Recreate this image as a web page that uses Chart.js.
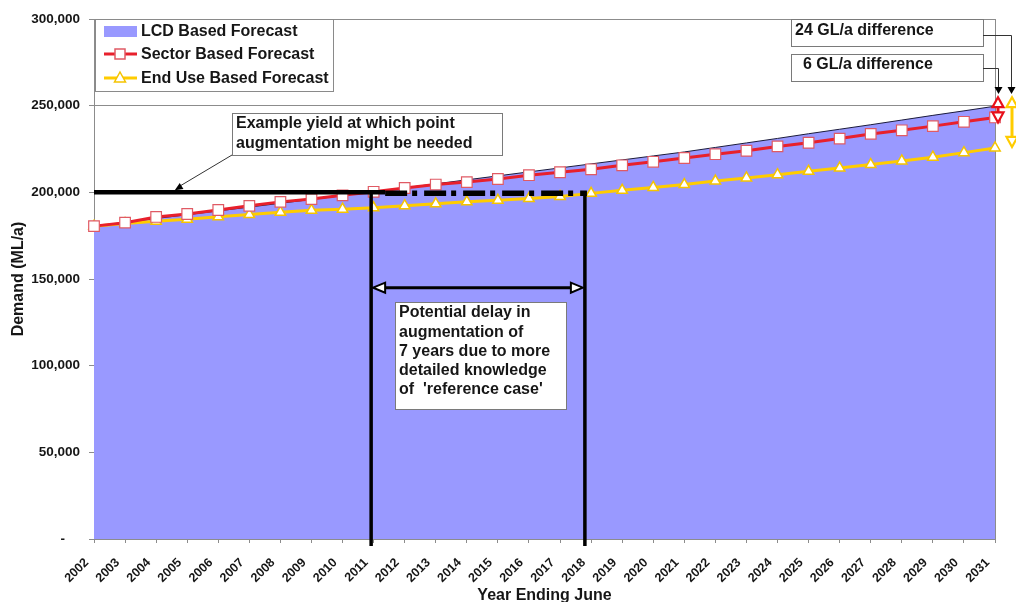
<!DOCTYPE html>
<html>
<head>
<meta charset="utf-8">
<script src="https://cdn.jsdelivr.net/npm/chart.js@4/dist/chart.umd.min.js"></script>
<style>
  html, body { margin: 0; padding: 0; background: #ffffff; }
  #wrap { width: 1016px; height: 602px; position: relative; }
</style>
</head>
<body>
<div id="wrap"><canvas id="demand" width="1016" height="602"></canvas></div>
<script>
// Forecast years (year ending June)
const years = ['2002','2003','2004','2005','2006','2007','2008','2009','2010','2011',
               '2012','2013','2014','2015','2016','2017','2018','2019','2020','2021',
               '2022','2023','2024','2025','2026','2027','2028','2029','2030','2031'];

// Demand forecasts, ML/a
const lcdForecast = [180500, 182700, 184900, 187100, 189300, 191500, 193700, 195900, 198100, 200300,
                     202600, 204900, 207200, 209500, 211800, 214100, 216400, 218700, 221000, 223300,
                     225900, 228500, 231100, 233800, 236400, 239000, 241700, 244400, 247000, 249700];
const sectorForecast = [180500, 182500, 185800, 187500, 189800, 192200, 194500, 196100, 198300, 200300,
                        202500, 204500, 205900, 207700, 209900, 211600, 213300, 215600, 217600, 219800,
                        222000, 224000, 226500, 228600, 231000, 233700, 235800, 238200, 240700, 243200];
const endUseForecast = [180500, 182000, 183300, 184500, 185900, 187200, 188500, 189600, 190300, 191100,
                        192300, 193400, 194500, 195400, 196400, 197600, 199400, 201200, 202800, 204500,
                        206500, 208300, 210200, 212100, 214000, 216000, 218100, 220300, 222900, 225600];

// Value axis labels (accounting style: zero shown as a dash)
const yTickLabels = ['-    ', '50,000', '100,000', '150,000', '200,000', '250,000', '300,000'];

// Annotation values
const firstYear = 2002;
const yieldLevel = 200000;       // example yield
const delayFrom = 2010.92;       // LCD forecast reaches the yield
const delayTo = 2017.8;          // end use forecast reaches the yield
const delayArrowLevel = 145000;
const sectorGap = 6;             // GL/a
const endUseGap = 24;            // GL/a

const FONT = '"Liberation Sans", Arial, Helvetica, sans-serif';
const INK = '#161616';

function arrowHead(ctx, tipX, tipY, dx, dy, len, half, fill, stroke, lw) {
  const bx = tipX - dx * len, by = tipY - dy * len;
  const nx = -dy, ny = dx;
  ctx.beginPath();
  ctx.moveTo(tipX, tipY);
  ctx.lineTo(bx + nx * half, by + ny * half);
  ctx.lineTo(bx - nx * half, by - ny * half);
  ctx.closePath();
  if (fill) { ctx.fillStyle = fill; ctx.fill(); }
  if (stroke) { ctx.strokeStyle = stroke; ctx.lineWidth = lw; ctx.lineJoin = 'miter'; ctx.stroke(); }
}

function textBox(ctx, lines, left, top, w, h, tx, ty, lh) {
  ctx.fillStyle = '#ffffff';
  ctx.fillRect(left, top, w, h);
  ctx.strokeStyle = '#7a7a7a';
  ctx.lineWidth = 1;
  ctx.strokeRect(left + 0.5, top + 0.5, w, h);
  ctx.fillStyle = INK;
  ctx.font = 'bold 16px ' + FONT;
  ctx.textAlign = 'left';
  ctx.textBaseline = 'middle';
  lines.forEach((s, i) => ctx.fillText(s, tx, ty + i * lh));
}

const annotations = {
  id: 'annotations',
  beforeDatasetsDraw(chart) {
    const { ctx, chartArea: a } = chart;
    ctx.save();
    ctx.strokeStyle = '#8c8c8c';
    ctx.lineWidth = 1;
    ctx.strokeRect(Math.round(a.left) + 0.5, Math.round(a.top) + 0.5,
                   Math.round(a.right - a.left), Math.round(a.bottom - a.top));
    ctx.restore();
  },
  afterDatasetsDraw(chart) {
    const { ctx, chartArea: a, scales: { x, y } } = chart;
    const px = yr => x.getPixelForValue(yr - firstYear);
    const py = v => y.getPixelForValue(v);
    const last = years.length - 1;
    const yLine = py(yieldLevel);
    const x1 = px(delayFrom), x2 = px(delayTo);

    ctx.save();
    ctx.strokeStyle = '#000000';
    ctx.lineCap = 'butt';

    // yield line: solid, then dash-dot across the delay period
    ctx.lineWidth = 4.5;
    ctx.beginPath(); ctx.moveTo(a.left, yLine); ctx.lineTo(x1 + 14, yLine); ctx.stroke();
    ctx.lineWidth = 5.5;
    ctx.setLineDash([22, 5, 5, 7]);
    ctx.beginPath(); ctx.moveTo(x1 + 14, yLine + 1); ctx.lineTo(x2 + 2, yLine + 1); ctx.stroke();
    ctx.setLineDash([]);

    // delay period bounds
    ctx.lineWidth = 3.5;
    ctx.beginPath();
    ctx.moveTo(x1, yLine); ctx.lineTo(x1, a.bottom + 7);
    ctx.moveTo(x2, yLine - 1); ctx.lineTo(x2, a.bottom + 7);
    ctx.stroke();

    // double-headed delay arrow
    const yA = py(delayArrowLevel);
    ctx.lineWidth = 3;
    ctx.beginPath(); ctx.moveTo(x1 + 10, yA); ctx.lineTo(x2 - 10, yA); ctx.stroke();
    arrowHead(ctx, x1 + 2, yA, -1, 0, 12, 5, '#ffffff', '#000000', 2);
    arrowHead(ctx, x2 - 2, yA, 1, 0, 12, 5, '#ffffff', '#000000', 2);

    // delay explanation
    textBox(ctx, ['Potential delay in', 'augmentation of', '7 years due to more',
                  'detailed knowledge', "of  'reference case'"],
            395, 302, 171, 107, 399, 313, 19.2);

    // yield explanation with leader
    const tipX = px(2004.6);
    ctx.strokeStyle = '#333333';
    ctx.lineWidth = 1;
    ctx.beginPath(); ctx.moveTo(232, 155); ctx.lineTo(tipX + 3, yLine - 5); ctx.stroke();
    arrowHead(ctx, tipX, yLine - 2, -0.85, 0.53, 8, 3.5, '#000000', null, 0);
    textBox(ctx, ['Example yield at which point', 'augmentation might be needed'],
            232, 113, 270, 42, 236, 124, 20);

    // difference callouts at the end of the forecast
    textBox(ctx, [endUseGap + ' GL/a difference'], 791, 19, 192, 27, 795, 31, 0);
    textBox(ctx, [sectorGap + ' GL/a difference'], 791, 54, 192, 27, 803, 65, 0);
    ctx.strokeStyle = '#333333';
    ctx.lineWidth = 1;
    ctx.beginPath();
    ctx.moveTo(983, 35.5); ctx.lineTo(1011.5, 35.5); ctx.lineTo(1011.5, 88);
    ctx.moveTo(983, 68.5); ctx.lineTo(998.5, 68.5); ctx.lineTo(998.5, 88);
    ctx.stroke();
    arrowHead(ctx, 1011.5, 94, 0, 1, 7, 4, '#000000', null, 0);
    arrowHead(ctx, 998.5, 94, 0, 1, 7, 4, '#000000', null, 0);

    // LCD vs sector gap (red) and LCD vs end use gap (yellow)
    const redX = 998, yelX = 1012;
    const topTip = py(lcdForecast[last]) - 9;
    const redBot = py(sectorForecast[last]) + 5;
    const yelBot = py(endUseForecast[last]) - 1;
    ctx.lineWidth = 3;
    ctx.strokeStyle = '#e8101a';
    ctx.beginPath(); ctx.moveTo(redX, topTip + 9); ctx.lineTo(redX, redBot - 9); ctx.stroke();
    arrowHead(ctx, redX, topTip, 0, -1, 10, 5.5, '#ffffff', '#e8101a', 2.2);
    arrowHead(ctx, redX, redBot, 0, 1, 10, 5.5, '#ffffff', '#e8101a', 2.2);
    ctx.strokeStyle = '#ffcc00';
    ctx.lineWidth = 3;
    ctx.beginPath(); ctx.moveTo(yelX, topTip + 9); ctx.lineTo(yelX, yelBot - 9); ctx.stroke();
    arrowHead(ctx, yelX, topTip, 0, -1, 10, 5.5, '#ffffff', '#ffcc00', 2.2);
    arrowHead(ctx, yelX, yelBot, 0, 1, 10, 5.5, '#ffffff', '#ffcc00', 2.2);

    // legend
    ctx.fillStyle = '#ffffff';
    ctx.fillRect(95, 19, 238, 72);
    ctx.strokeStyle = '#8a8a8a';
    ctx.lineWidth = 1;
    ctx.strokeRect(95.5, 19.5, 238, 72);
    const ds = chart.data.datasets;
    ctx.font = 'bold 16px ' + FONT;
    ctx.textAlign = 'left';
    ctx.textBaseline = 'middle';
    // area swatch
    ctx.fillStyle = ds[0].backgroundColor;
    ctx.fillRect(104, 26, 33, 11);
    ctx.fillStyle = INK;
    ctx.fillText(ds[0].label, 141, 32);
    // sector entry
    ctx.strokeStyle = ds[1].borderColor; ctx.lineWidth = 3;
    ctx.beginPath(); ctx.moveTo(104, 54); ctx.lineTo(137, 54); ctx.stroke();
    ctx.fillStyle = '#ffffff'; ctx.fillRect(115, 49, 10, 10);
    ctx.strokeStyle = ds[1].pointBorderColor; ctx.lineWidth = 1.5;
    ctx.strokeRect(115, 49, 10, 10);
    ctx.fillStyle = INK;
    ctx.fillText(ds[1].label, 141, 55);
    // end use entry
    ctx.strokeStyle = ds[2].borderColor; ctx.lineWidth = 3;
    ctx.beginPath(); ctx.moveTo(104, 78); ctx.lineTo(137, 78); ctx.stroke();
    ctx.beginPath(); ctx.moveTo(120, 72); ctx.lineTo(125.5, 82); ctx.lineTo(114.5, 82); ctx.closePath();
    ctx.fillStyle = '#ffffff'; ctx.fill();
    ctx.strokeStyle = ds[2].pointBorderColor; ctx.lineWidth = 1.5; ctx.stroke();
    ctx.fillStyle = INK;
    ctx.fillText(ds[2].label, 141, 79);

    ctx.restore();
  }
};

new Chart(document.getElementById('demand'), {
  type: 'line',
  data: {
    labels: years,
    datasets: [
      {
        label: 'LCD Based Forecast',
        data: lcdForecast,
        fill: 'origin',
        backgroundColor: '#9999ff',
        borderColor: '#1c1c3c',
        borderWidth: 1,
        pointRadius: 0,
        tension: 0,
        order: 3
      },
      {
        label: 'Sector Based Forecast',
        data: sectorForecast,
        fill: false,
        borderColor: '#e8202c',
        borderWidth: 3,
        pointStyle: 'rect',
        pointRadius: 7.5,
        pointBackgroundColor: '#ffffff',
        pointBorderColor: '#e05a64',
        pointBorderWidth: 1.2,
        tension: 0,
        order: 1
      },
      {
        label: 'End Use Based Forecast',
        data: endUseForecast,
        fill: false,
        borderColor: '#ffcc00',
        borderWidth: 3,
        pointStyle: 'triangle',
        pointRadius: 6,
        pointBackgroundColor: '#ffffff',
        pointBorderColor: '#f5c400',
        pointBorderWidth: 1.5,
        tension: 0,
        order: 2
      }
    ]
  },
  options: {
    responsive: false,
    animation: false,
    devicePixelRatio: 1,
    layout: { padding: { left: 0, top: 19, right: 21, bottom: 0 } },
    plugins: { legend: { display: false }, tooltip: { enabled: false } },
    scales: {
      x: {
        type: 'category',
        offset: false,
        afterFit: s => { s.height = 63; },
        grid: { display: true, drawOnChartArea: false, tickLength: 4, color: '#8c8c8c' },
        border: { display: true, color: '#8c8c8c' },
        ticks: {
          autoSkip: false, minRotation: 45, maxRotation: 45, padding: 5,
          color: INK, font: { family: FONT, size: 12.5, weight: 'bold' },
          callback: (v, i) => years[i] + '   '
        },
        title: {
          display: true, text: 'Year Ending June', color: INK,
          font: { family: FONT, size: 16, weight: 'bold' }, padding: { top: 0, bottom: -3 }
        }
      },
      y: {
        min: 0, max: 300000,
        afterFit: s => { s.width = 94; },
        grid: { color: '#8c8c8c', lineWidth: 1, tickLength: 5, drawTicks: true },
        border: { display: true, color: '#8c8c8c' },
        ticks: {
          stepSize: 50000, padding: 9,
          color: INK, font: { family: FONT, size: 13.5, weight: 'bold' },
          callback: (v, i) => yTickLabels[i]
        },
        title: {
          display: true, text: 'Demand (ML/a)', color: INK,
          font: { family: FONT, size: 16, weight: 'bold' }, padding: { top: 9, bottom: 0 }
        }
      }
    }
  },
  plugins: [annotations]
});
</script>
</body>
</html>
